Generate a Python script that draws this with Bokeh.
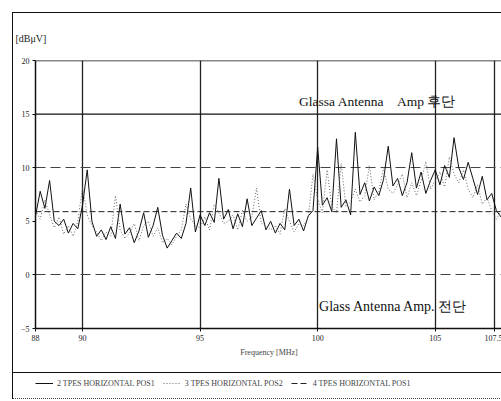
from bokeh.plotting import figure
from bokeh.layouts import column
from bokeh.models import Legend, LegendItem, Label, Span, Title, FixedTicker
from bokeh.embed import file_html
from bokeh.resources import INLINE

freq_mhz = [
    88.0, 88.2, 88.4, 88.6, 88.8, 89.0, 89.2, 89.4, 89.6, 89.8,
    90.0, 90.2, 90.4, 90.6, 90.8, 91.0, 91.2, 91.4, 91.6, 91.8,
    92.0, 92.2, 92.4, 92.6, 92.8, 93.0, 93.2, 93.4, 93.6, 93.8,
    94.0, 94.2, 94.4, 94.6, 94.8, 95.0, 95.2, 95.4, 95.6, 95.8,
    96.0, 96.2, 96.4, 96.6, 96.8, 97.0, 97.2, 97.4, 97.6, 97.8,
    98.0, 98.2, 98.4, 98.6, 98.8, 99.0, 99.2, 99.4, 99.6, 99.8,
    100.0, 100.2, 100.4, 100.6, 100.8, 101.0, 101.2, 101.4, 101.6, 101.8,
    102.0, 102.2, 102.4, 102.6, 102.8, 103.0, 103.2, 103.4, 103.6, 103.8,
    104.0, 104.2, 104.4, 104.6, 104.8, 105.0, 105.2, 105.4, 105.6, 105.8,
    106.0, 106.2, 106.4, 106.6, 106.8, 107.0, 107.2, 107.4, 107.6, 107.8,
    108.0,
]

tpes2_dbuv = [
    5.5, 7.8, 6.2, 8.8, 5.0, 4.6, 5.2, 3.9, 4.8, 4.3,
    6.5, 9.8, 5.0, 3.6, 4.2, 3.3, 4.5, 3.4, 6.6, 3.8,
    4.4, 3.0, 4.1, 5.8, 3.5, 4.6, 6.3, 3.7, 2.5, 3.2,
    3.9, 3.4, 4.8, 8.1, 4.0, 5.6, 4.6, 5.8, 4.9, 9.0,
    5.2, 6.1, 4.3, 5.7, 4.5, 7.1, 4.6, 5.3, 6.0, 4.2,
    5.0, 3.9, 4.8, 4.2, 8.0, 4.6, 5.2, 4.1, 5.5, 6.0,
    11.9, 6.5, 7.2, 5.9, 12.7, 6.3, 7.0, 5.6, 13.3, 7.5,
    8.6, 6.9, 8.2, 7.4, 8.9, 12.0, 8.3, 9.0, 7.4, 8.6,
    11.4, 8.1, 9.6, 7.6, 8.8, 9.8, 8.4, 10.2, 9.1, 12.8,
    10.0, 8.9, 10.5, 9.0, 7.5, 9.2, 7.0, 7.6, 6.0, 5.4,
    6.2,
]

tpes3_dbuv = [
    6.0, 5.2, 7.0, 5.6, 4.4, 5.4, 3.8, 4.6, 3.6, 5.0,
    8.2, 5.6, 4.6, 4.0, 3.2, 4.0, 3.6, 7.4, 4.2, 3.4,
    3.9, 4.8, 3.2, 4.6, 5.0, 3.6, 4.4, 3.0, 3.4, 2.8,
    3.6, 4.2, 6.6, 5.2, 4.6, 4.4, 5.4, 4.2, 6.6, 5.8,
    4.8, 5.0, 5.6, 4.2, 6.0, 5.0, 5.4, 8.1, 4.8, 4.6,
    4.2, 4.6, 3.8, 6.2, 5.0, 4.0, 4.8, 4.6, 5.4, 9.4,
    7.0, 5.8, 9.8, 6.4, 5.8, 10.4, 6.4, 6.8, 8.0, 6.8,
    7.4, 10.2, 7.0, 7.8, 10.0, 8.0, 7.6, 8.4, 9.4, 7.2,
    8.6, 7.4, 8.8, 10.6, 8.0, 8.8, 9.6, 8.2, 11.0, 9.4,
    8.6, 9.8, 8.0, 7.2, 8.4, 6.6, 7.2, 6.0, 5.2, 6.0,
    5.4,
]

tpes4_freq = [88.0, 108.0]
tpes4_dbuv = [5.9, 5.9]

x_ticks = [88, 90, 95, 100, 105, 107.5]
y_ticks = [-5, 0, 5, 10, 15, 20]
y_grid_dashed = [0, 10]
y_grid_solid = [15, 20]
series_names = ["2 TPES HORIZONTAL POS1", "3 TPES HORIZONTAL POS2", "4 TPES HORIZONTAL POS1"]
y_unit = "[dBμV]"
x_title = "Frequency [MHz]"
note_after = "Glassa Antenna\u00a0\u00a0\u00a0\u00a0Amp 후단"
note_before = "Glass Antenna Amp. 전단"

SERIF = "Liberation Serif"
S2 = dict(line_color="#111111", line_width=1)
S3 = dict(line_color="#666666", line_width=1, line_dash="1 2")
S4 = dict(line_color="#222222", line_width=1, line_dash="6 3")

p = figure(width=489, height=359, x_range=(88, 107.86), y_range=(-5, 20),
           output_backend="svg", toolbar_location=None,
           min_border_left=22, min_border_right=0, min_border_top=47, min_border_bottom=44)
p.outline_line_color = None
p.background_fill_color = "white"
p.border_fill_color = "white"

p.title = Title(text=y_unit, align="left", offset=-20, standoff=34,
                text_font=SERIF, text_font_size="10px", text_font_style="normal", text_color="#222")

r2 = p.line(freq_mhz, tpes2_dbuv, **S2)
r3 = p.line(freq_mhz, tpes3_dbuv, **S3)
r4 = p.line(tpes4_freq, tpes4_dbuv, **S4)

p.xaxis.ticker = x_ticks
p.yaxis.ticker = y_ticks
for ax in (p.xaxis[0], p.yaxis[0]):
    ax.major_label_text_font = SERIF
    ax.major_label_text_font_size = "8px"
    ax.major_label_text_color = "#222"
    ax.axis_line_color = "#111"
    ax.axis_line_width = 1.5
    ax.major_tick_out = 3
    ax.major_tick_in = 0
    ax.minor_tick_line_color = None
    ax.major_tick_line_color = "#111"
    ax.major_label_standoff = 3
p.xaxis.axis_label = x_title
p.xaxis.axis_label_text_font = SERIF
p.xaxis.axis_label_text_font_size = "8px"
p.xaxis.axis_label_text_font_style = "normal"
p.xaxis.axis_label_standoff = 4

p.xgrid.grid_line_color = "#222"
p.xgrid.grid_line_width = 1.3
p.ygrid.ticker = FixedTicker(ticks=y_grid_dashed)
p.ygrid.grid_line_color = "#444"
p.ygrid.grid_line_dash = "10 5"
p.ygrid.grid_line_width = 1
for lvl in y_grid_solid:
    p.add_layout(Span(location=lvl, dimension="width", line_color="#111", line_width=1.3))

p.add_layout(Label(x=99.21, y=16.16, text=note_after, text_font=SERIF, text_font_size="13.5px",
                   text_baseline="middle", text_color="#111"))
p.add_layout(Label(x=100.06, y=-2.94, text=note_before, text_font=SERIF, text_font_size="14px",
                   text_baseline="middle", text_color="#111"))

# legend strip below the chart (series re-drawn outside its visible range, so only the key shows)
lf = figure(width=489, height=27, x_range=(0, 1), y_range=(0, 1),
            x_axis_type=None, y_axis_type=None, output_backend="svg",
            toolbar_location=None, min_border=0)
lf.outline_line_color = None
lf.grid.visible = False
lf.styles = {"border-top": "1px solid #111", "border-bottom": "1px dotted #444"}
k2 = lf.line(freq_mhz, tpes2_dbuv, **S2)
k3 = lf.line(freq_mhz, tpes3_dbuv, **S3)
k4 = lf.line(tpes4_freq, tpes4_dbuv, **S4)
legend = Legend(items=[LegendItem(label=series_names[0], renderers=[k2]),
                       LegendItem(label=series_names[1], renderers=[k3]),
                       LegendItem(label=series_names[2], renderers=[k4])],
                location=(0, 12), orientation="horizontal")
legend.label_text_font = SERIF
legend.label_text_font_size = "8px"
legend.glyph_width = 18
legend.glyph_height = 10
legend.label_standoff = 4
legend.spacing = 8
legend.padding = 4
legend.margin = 0
legend.border_line_color = None
legend.background_fill_alpha = 0
lf.add_layout(legend)

layout = column(p, lf, spacing=0, margin=(12, 0, 0, 12),
                styles={"border-left": "1px solid #111", "border-top": "1px solid #111"})

open("out.html", "w").write(file_html(layout, INLINE))
